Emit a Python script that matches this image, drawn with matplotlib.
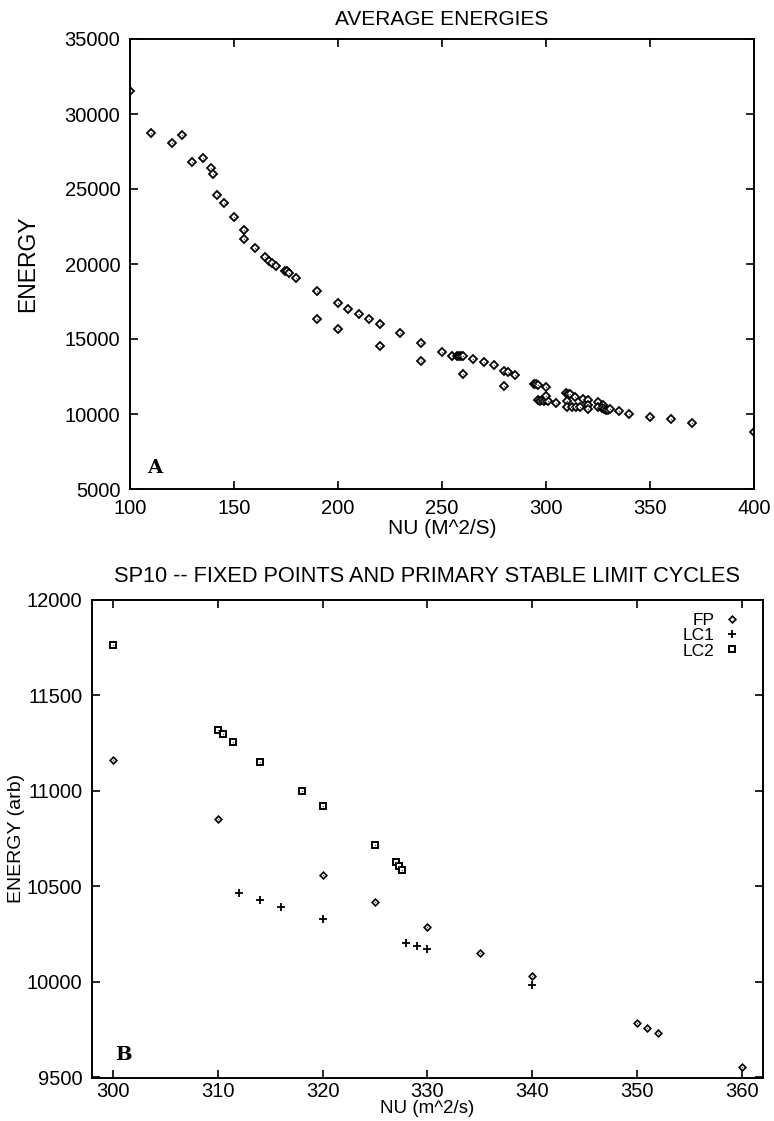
import matplotlib
matplotlib.use("Agg")
import matplotlib.pyplot as plt

plt.rcParams['font.family'] = ['Liberation Sans', 'DejaVu Sans']

# ---------------- Panel A data: average energies ----------------
nu_avg = [100, 110, 120, 125, 130, 135, 139, 140, 142, 145, 150, 155, 155, 160,
          165, 167, 168.5, 170, 174.5, 175.5, 176.5, 180, 190, 190, 200, 200,
          205, 210, 215, 220, 220, 230, 240, 240, 250, 255, 257, 258, 259, 260,
          260, 265, 270, 275, 280, 281.5, 285, 280, 294, 295, 296, 300,
          296, 297, 298, 299, 300, 301, 300, 305, 309.5, 310.5, 311.5, 310,
          310, 312.5, 314, 314.5, 316.5, 318, 320, 320, 320, 325, 325, 327.5,
          327, 328, 329, 330, 331, 335, 340, 350, 360, 370, 400]
energy_avg = [31560, 28760, 28060, 28600, 26820, 27100, 26370, 26030, 24580,
              24080, 23110, 22260, 21660, 21050, 20490, 20220, 20060, 19900,
              19560, 19520, 19430, 19050, 18200, 16350, 17400, 15680, 17010,
              16660, 16330, 16000, 14540, 15370, 14760, 13530, 14150, 13890,
              13860, 13880, 13840, 13860, 12660, 13670, 13500, 13250, 12900,
              12780, 12570, 11860, 12030, 11990, 11960, 11790,
              10960, 10900, 10950, 10880, 10920, 10850, 11220, 10710, 11380,
              11360, 11340, 10880, 10500, 10440, 11140, 10440, 10440, 11010,
              10920, 10590, 10350, 10770, 10440, 10620, 10400, 10350, 10300,
              10280, 10330, 10220, 10030, 9830, 9640, 9410, 8800]

# ---------------- Panel B data: SP10 ----------------
fp_nu = [300, 310, 320, 325, 330, 335, 340, 350, 351, 352, 360]
fp_energy = [11160, 10850, 10560, 10420, 10285, 10150, 10030, 9783, 9758, 9735, 9555]

lc1_nu = [312, 314, 316, 320, 328, 329, 330, 340]
lc1_energy = [10466, 10427, 10393, 10327, 10206, 10188, 10170, 9984]

lc2_nu = [300, 310, 310.5, 311.5, 314, 318, 320, 325, 327, 327.3, 327.6]
lc2_energy = [11763, 11318, 11297, 11255, 11150, 10996, 10921, 10718, 10627, 10606, 10586]

W, H = 774, 1121
fig = plt.figure(figsize=(W / 100, H / 100), dpi=100)

def box(l, t, r, b):
    return [l / W, 1 - b / H, (r - l) / W, (b - t) / H]

axA = fig.add_axes(box(130, 39, 754, 489))
axB = fig.add_axes(box(92, 599.5, 762.7, 1077.5))

tick_fs = 14.5
for ax in (axA, axB):
    for s in ax.spines.values():
        s.set_linewidth(1.4)
        s.set_color('black')
    ax.tick_params(direction='in', length=6, width=1.2, top=True, right=True,
                   labelsize=tick_fs, pad=7)
    ax.tick_params(axis='y', pad=7)
axB.tick_params(axis='x', pad=3)

# ---- Panel A ----
axA.plot(nu_avg, energy_avg, linestyle='none', marker='D', markersize=3.9,
         markerfacecolor='white', markeredgecolor='black', markeredgewidth=1.3)
axA.plot(nu_avg, energy_avg, linestyle='none', marker='o', markersize=1.0,
         markerfacecolor='#555555', markeredgecolor='#555555', markeredgewidth=0)
axA.set_xlim(100, 400)
axA.set_ylim(5000, 35000)
axA.set_xticks([100, 150, 200, 250, 300, 350, 400])
axA.set_yticks([5000, 10000, 15000, 20000, 25000, 30000, 35000])
axA.set_title('AVERAGE ENERGIES', fontsize=15, pad=10)
axA.set_xlabel('NU (M^2/S)', fontsize=15)
axA.set_ylabel('ENERGY', fontsize=16.5)
axA.xaxis.set_label_coords(0.5, -0.066)
axA.yaxis.set_label_coords(-0.146, 0.5)
axA.text(0.04, 0.047, 'A', transform=axA.transAxes, fontsize=14,
         fontweight='bold', family='DejaVu Serif', ha='center', va='center')

# ---- Panel B ----
axB.plot(fp_nu, fp_energy, linestyle='none', marker='D', markersize=3.4,
         markerfacecolor='white', markeredgecolor='black', markeredgewidth=1.2,
         label='FP')
axB.plot(lc1_nu, lc1_energy, linestyle='none', marker='+', markersize=5.2,
         markeredgecolor='black', markeredgewidth=1.3, label='LC1')
axB.plot(lc2_nu, lc2_energy, linestyle='none', marker='s', markersize=4.6,
         markerfacecolor='white', markeredgecolor='black', markeredgewidth=1.4,
         label='LC2')
axB.plot(fp_nu, fp_energy, linestyle='none', marker='o', markersize=1.0,
         color='#555555', markeredgewidth=0)
axB.plot(lc2_nu, lc2_energy, linestyle='none', marker='o', markersize=1.0,
         color='#555555', markeredgewidth=0)
axB.set_xlim(298, 362)
axB.set_ylim(9500, 12000)
axB.set_xticks([300, 310, 320, 330, 340, 350, 360])
axB.set_yticks([9500, 10000, 10500, 11000, 11500, 12000])
axB.set_title('SP10 -- FIXED POINTS AND PRIMARY STABLE LIMIT CYCLES',
              fontsize=15.7, pad=12.5)
axB.set_xlabel('NU (m^2/s)', fontsize=13.5)
axB.set_ylabel('ENERGY (arb)', fontsize=14)
axB.xaxis.set_label_coords(0.5, -0.047)
axB.yaxis.set_label_coords(-0.1, 0.5)
axB.text(0.047, 0.047, 'B', transform=axB.transAxes, fontsize=14,
         fontweight='bold', family='DejaVu Serif', ha='center', va='center')

leg = axB.legend(loc='upper right', bbox_to_anchor=(0.985, 0.997),
                 frameon=False, markerfirst=False, fontsize=12.5,
                 handlelength=1.0, handletextpad=0.5, labelspacing=0.0,
                 borderpad=0.2)
for t in leg.get_texts():
    t.set_ha('right')

fig.savefig('out.png', dpi=100)
